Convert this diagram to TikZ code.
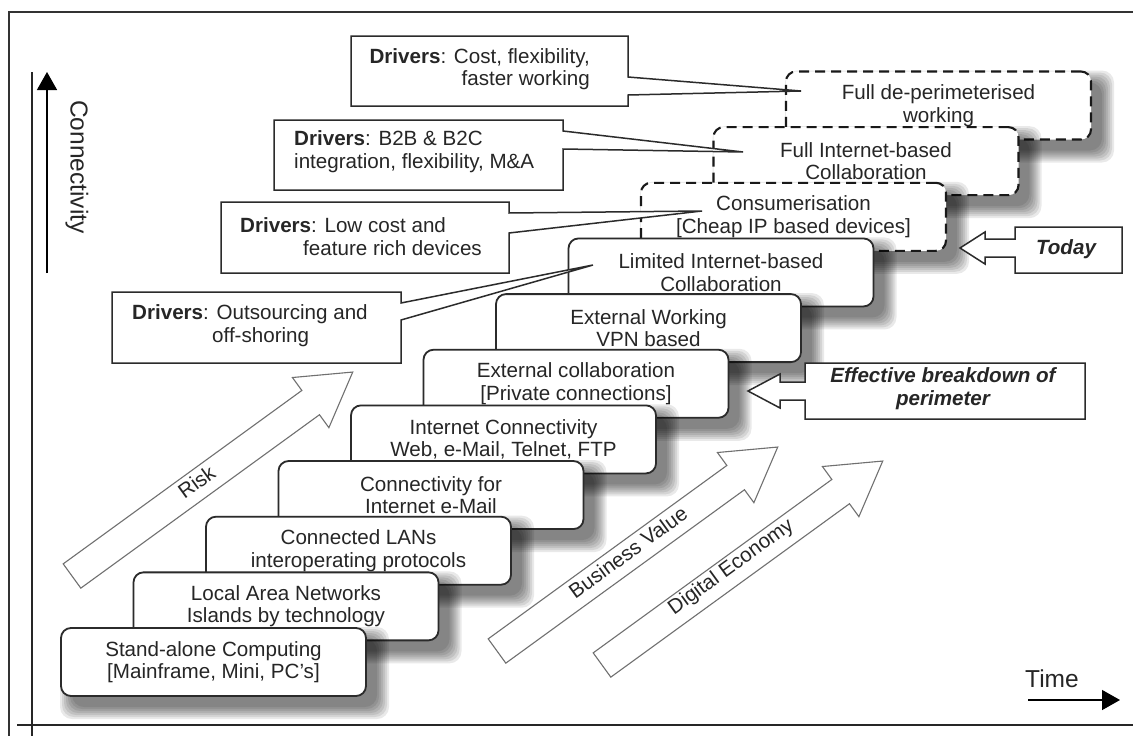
\documentclass[tikz,border=0pt]{standalone}
\usepackage{fontspec}
\setmainfont{Liberation Sans}
\usetikzlibrary{arrows.meta}

\definecolor{ink}{HTML}{262626}
\definecolor{edge}{HTML}{2B2B2B}
\definecolor{arrowgray}{HTML}{707070}

\newcommand{\bfont}{\fontsize{20.6}{22.5}\selectfont}
\newcommand{\axfont}{\fontsize{24.5}{28}\selectfont}

\tikzset{
  stage/.style={draw=edge, line width=1.8pt, fill=white, rounded corners=10pt,
    minimum width=305pt, minimum height=68pt, inner sep=0pt, align=center,
    font=\bfont, text=ink},
  future/.style={stage, draw=black!90, line width=2.1pt, dash pattern=on 10pt off 6pt},
  callout/.style={draw=edge, line width=1.5pt, fill=white, line join=miter},
  calltext/.style={font=\bfont, text=ink, inner sep=0pt},
  trend/.style={draw=arrowgray, line width=1.1pt, fill=white, line join=miter},
  trendlabel/.style={font=\bfont, text=ink, rotate=36, inner sep=0pt},
  axisline/.style={draw=black!85, line width=2pt},
  pointer/.style={line width=1.4pt, -{Triangle[width=20pt,length=18pt]}},
}

% one stage of the staircase: soft shadow, then the box itself
% #1 name, #2 step index, #3 style, #4 text
\newcommand{\stagebox}[4]{%
  \pgfmathsetmacro{\sx}{61+72.5*#2}%
  \pgfmathsetmacro{\sy}{628-55.65*#2}%
  \foreach \e in {0,2,4,6,8,10,12}{%
    \fill[black, opacity=0.085, rounded corners=12pt]
      ({\sx+11-\e},{\sy+11-\e}) rectangle ({\sx+316+\e},{\sy+79+\e});
  }%
  \node[#3] (#1) at ({\sx+152.5},{\sy+34}) {#4};
}

% hollow block arrow rising at 36 degrees with its label
% #1 name, #2/#3 tail centre, #4 label position along the shaft, #5 label
\newcommand{\trendarrow}[5]{%
  \begin{scope}[shift={(#2,#3)}, rotate=36]
    \path[trend] (0,-15) -- (295,-15) -- (295,-31) -- (347,0) -- (295,31)
      -- (295,15) -- (0,15) -- cycle;
    \node[trendlabel] (#1) at (#4,-3) {#5};
  \end{scope}%
}

\begin{document}
\begin{tikzpicture}[x=1pt, y=-1pt]
\useasboundingbox (0,0) rectangle (1133,736);
\fill[white] (0,0) rectangle (1133,736);

% frame and axes
\draw[draw=black!80, line width=1.4pt] (9,736) -- (9,12) -- (1133,12);
\draw[axisline] (32,72) -- (32,736);
\draw[axisline, line width=2.6pt] (17,725) -- (1133,725);

% staircase, back to front
\stagebox{deperim}{10}{future}{Full de-perimeterised\\working}
\stagebox{fullinet}{9}{future}{Full Internet-based\\Collaboration}
\stagebox{consumer}{8}{future}{Consumerisation\\{[}Cheap IP based devices{]}}
\stagebox{limited}{7}{stage}{Limited Internet-based\\Collaboration}
\stagebox{extwork}{6}{stage}{External Working\\VPN based}
\stagebox{extcollab}{5}{stage}{External collaboration\\{[}Private connections{]}}
\stagebox{inetconn}{4}{stage}{Internet Connectivity\\Web, e-Mail, Telnet, FTP}
\stagebox{email}{3}{stage}{Connectivity for\\Internet e-Mail}
\stagebox{lans}{2}{stage}{Connected LANs\\interoperating protocols}
\stagebox{lan}{1}{stage}{Local Area Networks\\Islands by technology}
\stagebox{standalone}{0}{stage}{Stand-alone Computing\\{[}Mainframe, Mini, PC's{]}}

% rising trends
\trendarrow{risk}{72}{576}{156}{Risk}
\trendarrow{bizvalue}{497}{651}{164}{Business Value}
\trendarrow{digecon}{602}{665}{162}{Digital Economy}

% driver callouts
\path[callout] (351,36) -- (628,36) -- (628,77) -- (801,91) -- (628,95)
  -- (628,106) -- (351,106) -- cycle;
\node[calltext, align=right, anchor=east] (drv1) at (590,69)
  {\textbf{Drivers}: Cost, flexibility,\\faster working};

\path[callout] (274,120) -- (563,120) -- (563,131) -- (743,152) -- (563,149)
  -- (563,190) -- (274,190) -- cycle;
\node[calltext, align=left, anchor=west] (drv2) at (294,151.5)
  {\textbf{Drivers}: B2B \& B2C\\integration, flexibility, M\&A};

\path[callout] (221,202) -- (509,202) -- (509,213) -- (702,211) -- (509,233)
  -- (509,273) -- (221,273) -- cycle;
\node[calltext, align=left, anchor=west] (drv3) at (240,236.5)
  {\textbf{Drivers}: Low cost and\\\hspace*{63pt}feature rich devices};

\path[callout] (112,292) -- (401,292) -- (401,303) -- (593,265) -- (401,320)
  -- (401,363) -- (112,363) -- cycle;
\node[calltext, align=left, anchor=west] (drv4) at (132,325.5)
  {\textbf{Drivers}: Outsourcing and\\\hspace*{80pt}off-shoring};

% milestone markers
\path[callout] (1015,227) -- (1122,227) -- (1122,273) -- (1015,273) -- (1015,257)
  -- (985,257) -- (985,264) -- (960,248) -- (985,232) -- (985,239) -- (1015,239) -- cycle;
\node[calltext, font=\bfont\bfseries\itshape] (today) at (1066,249) {Today};

\path[callout] (805,363) -- (1085,363) -- (1085,419) -- (805,419) -- (805,400)
  -- (780,400) -- (780,408) -- (748,391) -- (780,374) -- (780,382) -- (805,382) -- cycle;
\node[calltext, align=center, font=\bfont\bfseries\itshape] (breakdown) at (943,388.5)
  {Effective breakdown of\\perimeter};

% axis labels
\coordinate (connFoot) at (47,273);
\coordinate (connHead) at (47,72);
\draw[pointer] (connFoot) -- (connHead);
\node[font=\axfont, text=ink, rotate=-90, inner sep=0pt] (connLabel) at (77,167) {Connectivity};

\coordinate (timeFoot) at (1028,700);
\coordinate (timeHead) at (1120,700);
\draw[pointer] (timeFoot) -- (timeHead);
\node[font=\axfont, text=ink, inner sep=0pt] (timeLabel) at (1052,679) {Time};
\end{tikzpicture}
\end{document}
